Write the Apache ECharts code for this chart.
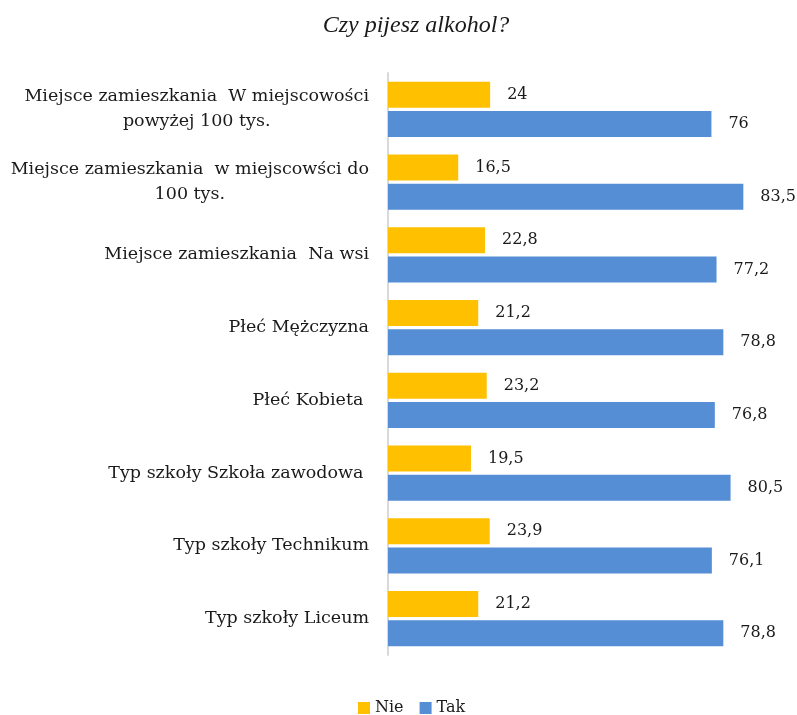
<!DOCTYPE html>
<html>
<head>
<meta charset="utf-8">
<script src="https://cdn.jsdelivr.net/npm/echarts@6/dist/echarts.min.js"></script>
<style>
  html, body { margin: 0; padding: 0; background: #fff; }
  #chart { width: 797px; height: 715px; }
</style>
</head>
<body>
<div id="chart"></div>
<script>
// Survey groups, listed top to bottom
const categories = [
  'Miejsce zamieszkania  W miejscowości\npowyżej 100 tys.',
  'Miejsce zamieszkania  w miejscowści do\n100 tys.',
  'Miejsce zamieszkania  Na wsi',
  'Płeć Mężczyzna',
  'Płeć Kobieta ',
  'Typ szkoły Szkoła zawodowa ',
  'Typ szkoły Technikum',
  'Typ szkoły Liceum'
];
// Share of answers (%)
const nieValues = [24, 16.5, 22.8, 21.2, 23.2, 19.5, 23.9, 21.2];
const takValues = [76, 83.5, 77.2, 78.8, 76.8, 80.5, 76.1, 78.8];

const FONT = '"DejaVu Serif", serif';
const TITLE_FONT = '"Liberation Serif", serif';
const TEXT = '#1a1a1a';
const fmt = v => String(v).replace('.', ',');

const chart = echarts.init(document.getElementById('chart'));
const valueLabel = {
  show: true,
  position: 'right',
  distance: 17,
  color: TEXT,
  fontFamily: FONT,
  fontSize: 16,
  formatter: p => fmt(p.value)
};

chart.setOption({
  animation: false,
  title: {
    text: 'Czy pijesz alkohol?',
    left: 411,
    top: 9,
    textAlign: 'center',
    textStyle: { fontFamily: TITLE_FONT, fontStyle: 'italic', fontWeight: 'normal', fontSize: 24, color: TEXT }
  },
  legend: {
    top: 695,
    left: 353,
    itemWidth: 12,
    itemHeight: 12,
    itemGap: 16,
    icon: 'rect',
    textStyle: { fontFamily: FONT, fontSize: 16, color: TEXT },
    data: ['Nie', 'Tak']
  },
  grid: { left: 388, right: 26, top: 73, bottom: 60 },
  xAxis: {
    type: 'value',
    min: 0,
    max: 90,
    show: false
  },
  yAxis: {
    type: 'category',
    inverse: true,
    data: categories,
    axisLine: { lineStyle: { color: '#d9d9d9', width: 2 } },
    axisTick: { show: false },
    axisLabel: {
      margin: 19,
      fontFamily: FONT,
      fontSize: 17.5,
      color: TEXT,
      lineHeight: 25,
      // each line of a two-line label is centred under the other
      formatter: v => v.split('\n').map(s => '{c|' + s + '}').join('\n'),
      rich: { c: { align: 'center', fontFamily: FONT, fontSize: 17.5, color: TEXT, lineHeight: 25 } }
    }
  },
  series: [
    { name: 'Nie', type: 'bar', data: nieValues, barWidth: 26, barGap: '12%', itemStyle: { color: '#FFC000' }, label: valueLabel },
    { name: 'Tak', type: 'bar', data: takValues, barWidth: 26, barGap: '12%', itemStyle: { color: '#558ED5' }, label: valueLabel }
  ]
});
</script>
</body>
</html>
